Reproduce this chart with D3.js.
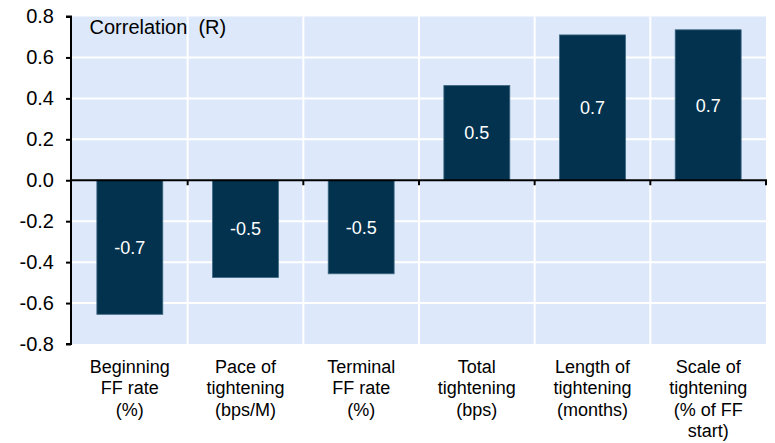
<!DOCTYPE html>
<html>
<head>
<meta charset="utf-8">
<script src="https://cdn.jsdelivr.net/npm/d3@7"></script>
<style>
    body { margin: 0; background: #fff; }
    svg text { font-family: "Liberation Sans", Arial, sans-serif; }
</style>
</head>
<body>
<svg id="chart"></svg>
<script>
// chart data
const categories = [
    ["Beginning", "FF rate", "(%)"],
    ["Pace of", "tightening", "(bps/M)"],
    ["Terminal", "FF rate", "(%)"],
    ["Total", "tightening", "(bps)"],
    ["Length of", "tightening", "(months)"],
    ["Scale of", "tightening", "(% of FF", "start)"]
];
const values = [-0.655, -0.475, -0.457, 0.463, 0.71, 0.735];
const valueLabels = ["-0.7", "-0.5", "-0.5", "0.5", "0.7", "0.7"];
const yTicks = [-0.8, -0.6, -0.4, -0.2, 0.0, 0.2, 0.4, 0.6, 0.8];

const width = 775, height = 443;
const margin = {top: 16.5, right: 9, bottom: 99, left: 72};
const innerW = width - margin.left - margin.right;
const innerH = height - margin.top - margin.bottom;

const svg = d3.select('#chart')
    .attr('width', width)
    .attr('height', height);

const g = svg.append('g')
    .attr('transform', `translate(${margin.left},${margin.top})`);

const x = d3.scaleBand()
    .domain(d3.range(categories.length))
    .range([0, innerW])
    .paddingInner(0.43)
    .paddingOuter(0.215);

const xBand = d3.scaleBand()
    .domain(d3.range(categories.length))
    .range([0, innerW]);

const y = d3.scaleLinear()
    .domain([-0.8, 0.8])
    .range([innerH, 0]);

// background
g.append('rect')
    .attr('width', innerW)
    .attr('height', innerH)
    .attr('fill', '#dde9fb');

// horizontal grid
g.selectAll('.hgrid')
    .data(yTicks.filter(d => d !== 0 && Math.abs(d) < 0.8))
    .join('line')
    .attr('class', 'hgrid')
    .attr('x1', 0).attr('x2', innerW)
    .attr('y1', d => y(d)).attr('y2', d => y(d))
    .attr('stroke', '#fff')
    .attr('stroke-width', 2);

// vertical grid at category boundaries
g.selectAll('.vgrid')
    .data(d3.range(1, categories.length))
    .join('line')
    .attr('class', 'vgrid')
    .attr('x1', d => xBand(d)).attr('x2', d => xBand(d))
    .attr('y1', 0).attr('y2', innerH)
    .attr('stroke', '#fff')
    .attr('stroke-width', 2);

// bars
g.selectAll('.bar')
    .data(values)
    .join('rect')
    .attr('class', 'bar')
    .attr('x', (d, i) => x(i))
    .attr('width', x.bandwidth())
    .attr('y', d => y(Math.max(0, d)))
    .attr('height', d => Math.abs(y(d) - y(0)))
    .attr('fill', '#02324e')
    .attr('stroke', '#3f6883')
    .attr('stroke-width', 0.8);

// value labels
g.selectAll('.vlabel')
    .data(values)
    .join('text')
    .attr('class', 'vlabel')
    .attr('x', (d, i) => x(i) + x.bandwidth() / 2)
    .attr('y', d => (y(d) + y(0)) / 2)
    .attr('dy', '0.36em')
    .attr('text-anchor', 'middle')
    .attr('fill', '#fff')
    .attr('font-size', 18)
    .text((d, i) => valueLabels[i]);

// y axis
const yAxis = d3.axisLeft(y)
    .tickValues(yTicks)
    .tickFormat(d3.format('.1f'))
    .tickSize(5)
    .tickPadding(12);

g.append('g')
    .attr('transform', 'translate(-1,0)')
    .call(yAxis)
    .call(s => s.select('.domain').attr('stroke', '#000').attr('stroke-width', 2).attr('d', `M-5,${innerH}H0V0H-5`))
    .call(s => s.selectAll('.tick line').attr('stroke', '#000').attr('stroke-width', 2))
    .call(s => s.selectAll('.tick text')
        .attr('fill', '#000')
        .attr('font-size', 20)
        .attr('font-family', '"Liberation Sans", Arial, sans-serif')
        .text(d => d3.format('.1f')(d).replace('−', '-')));

// zero line with ticks at category boundaries
g.append('line')
    .attr('x1', 0).attr('x2', innerW + 1)
    .attr('y1', y(0)).attr('y2', y(0))
    .attr('stroke', '#000')
    .attr('stroke-width', 2);

g.selectAll('.xtick')
    .data(d3.range(1, categories.length + 1))
    .join('line')
    .attr('class', 'xtick')
    .attr('x1', d => Math.min(xBand(d) ?? innerW, innerW))
    .attr('x2', d => Math.min(xBand(d) ?? innerW, innerW))
    .attr('y1', y(0)).attr('y2', y(0) + 5)
    .attr('stroke', '#000')
    .attr('stroke-width', 2);

// category labels
const catLabels = g.selectAll('.cat')
    .data(categories)
    .join('text')
    .attr('class', 'cat')
    .attr('text-anchor', 'middle')
    .attr('font-size', 18)
    .attr('fill', '#000')
    .attr('transform', (d, i) => `translate(${xBand(i) + xBand.bandwidth() / 2},${innerH + 29})`);

catLabels.selectAll('tspan')
    .data(d => d)
    .join('tspan')
    .attr('x', 0)
    .attr('y', (d, i) => i * 21.4)
    .text(d => d);

// title inside plot
g.append('text')
    .attr('x', 17.5)
    .attr('y', 17.5)
    .attr('font-size', 20)
    .attr('fill', '#000')
    .attr('xml:space', 'preserve')
    .style('white-space', 'pre')
    .text('Correlation  (R)');
</script>
</body>
</html>
